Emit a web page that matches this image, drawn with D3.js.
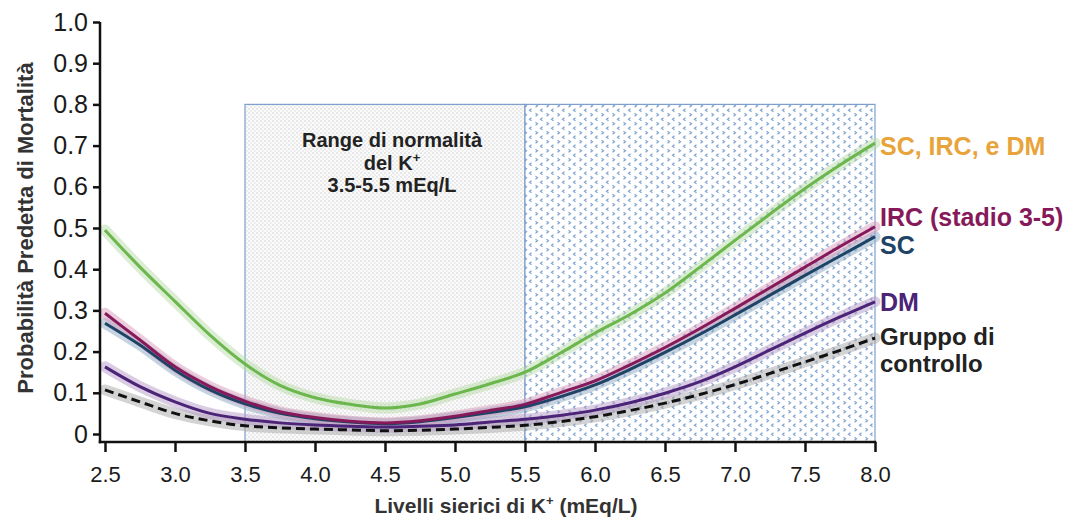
<!DOCTYPE html>
<html>
<head>
<meta charset="utf-8">
<script src="https://cdn.jsdelivr.net/npm/d3@7"></script>
<style>
  body { margin: 0; background: #fff; }
  text { font-family: "Liberation Sans", Arial, sans-serif; }
</style>
</head>
<body>
<div id="canvas"></div>
<script>
"use strict"

/* Data */
let kLevels = [2.5, 2.75, 3.0, 3.25, 3.5, 3.75, 4.0, 4.25, 4.5, 4.75, 5.0, 5.25, 5.5,
               5.75, 6.0, 6.25, 6.5, 6.75, 7.0, 7.25, 7.5, 7.75, 8.0];
let allThree = [0.495, 0.405, 0.322, 0.24, 0.17, 0.118, 0.088, 0.072, 0.063, 0.073, 0.097, 0.122, 0.15,
                0.196, 0.245, 0.29, 0.342, 0.405, 0.47, 0.534, 0.596, 0.653, 0.706];
let ckd = [0.293, 0.228, 0.163, 0.115, 0.08, 0.054, 0.04, 0.031, 0.027, 0.032, 0.043, 0.057, 0.072,
           0.1, 0.129, 0.168, 0.21, 0.256, 0.305, 0.355, 0.405, 0.455, 0.503];
let hf = [0.269, 0.216, 0.155, 0.107, 0.073, 0.05, 0.037, 0.029, 0.025, 0.03, 0.04, 0.052, 0.066,
          0.09, 0.119, 0.157, 0.198, 0.242, 0.289, 0.337, 0.385, 0.432, 0.479];
let dm = [0.163, 0.115, 0.078, 0.05, 0.036, 0.027, 0.022, 0.019, 0.017, 0.019, 0.022, 0.029, 0.036,
          0.045, 0.058, 0.076, 0.099, 0.127, 0.163, 0.204, 0.245, 0.284, 0.321];
let control = [0.107, 0.078, 0.05, 0.032, 0.02, 0.015, 0.012, 0.01, 0.008, 0.009, 0.012, 0.016, 0.021,
               0.03, 0.042, 0.057, 0.075, 0.096, 0.12, 0.147, 0.175, 0.203, 0.233];

let xTicks = [2.5, 3.0, 3.5, 4.0, 4.5, 5.0, 5.5, 6.0, 6.5, 7.0, 7.5, 8.0];
let yTicks = [0, 0.1, 0.2, 0.3, 0.4, 0.5, 0.6, 0.7, 0.8, 0.9, 1.0];
let normalRange = [3.5, 5.5];
let highRange = [5.5, 8.0];
let boxTop = 0.8;

/* Drawing configuration */
let svgWidth = 1075;
let svgHeight = 518;
let axisY = 442;   // x axis line sits a bit below the 0 level
let axisX = 100;   // y axis line sits a bit left of 2.5

let svg = d3.select("#canvas")
    .append("svg")
    .attr("width", svgWidth)
    .attr("height", svgHeight);

let xScale = d3.scaleLinear().domain([2.5, 8.0]).range([105, 875]);
let yScale = d3.scaleLinear().domain([0, 1]).range([434, 22]);

/* Patterns for the two shaded ranges */
let defs = svg.append("defs");
let grayPat = defs.append("pattern")
    .attr("id", "grayDots")
    .attr("patternUnits", "userSpaceOnUse")
    .attr("width", 4).attr("height", 4);
grayPat.append("rect").attr("width", 4).attr("height", 4).attr("fill", "#fbfbfb");
grayPat.append("circle").attr("cx", 1).attr("cy", 1).attr("r", 0.7).attr("fill", "#c6c6c6");
grayPat.append("circle").attr("cx", 3).attr("cy", 3).attr("r", 0.7).attr("fill", "#d4d4d4");

let bluePat = defs.append("pattern")
    .attr("id", "blueMarks")
    .attr("patternUnits", "userSpaceOnUse")
    .attr("width", 11).attr("height", 9);
bluePat.append("rect").attr("width", 11).attr("height", 9).attr("fill", "#ffffff");
bluePat.append("path")
    .attr("d", "M3.5,0.8 L1.5,2.3 L3.5,3.8 M7.5,5.3 L9.5,6.8 L7.5,8.3")
    .attr("fill", "none").attr("stroke", "#7fa3cf").attr("stroke-width", 1.2);

/* Shaded ranges */
svg.append("rect")
    .attr("x", xScale(normalRange[0]))
    .attr("y", yScale(boxTop))
    .attr("width", xScale(normalRange[1]) - xScale(normalRange[0]))
    .attr("height", axisY - yScale(boxTop))
    .attr("fill", "url(#grayDots)")
    .attr("stroke", "#7f9fcf")
    .attr("stroke-width", 1.2);

svg.append("rect")
    .attr("x", xScale(highRange[0]))
    .attr("y", yScale(boxTop))
    .attr("width", xScale(highRange[1]) - xScale(highRange[0]))
    .attr("height", axisY - yScale(boxTop))
    .attr("fill", "url(#blueMarks)")
    .attr("stroke", "#7f9fcf")
    .attr("stroke-width", 1.2);

/* Normal range caption */
let capX = 392;
let cap = svg.append("text")
    .attr("text-anchor", "middle")
    .attr("font-size", 20)
    .attr("font-weight", "bold")
    .attr("fill", "#222");
cap.append("tspan").attr("x", capX).attr("y", 147).text("Range di normalità");
let l2 = cap.append("tspan").attr("x", capX).attr("y", 170).text("del K");
l2.append("tspan").attr("font-size", 13).attr("dy", -8).text("+");
cap.append("tspan").attr("x", capX).attr("y", 192).text("3.5-5.5 mEq/L");

/* Series */
let series = [
    { name: "Gruppo di controllo", values: control, color: "#111111", band: "#a8a8a8", dash: "9,5" },
    { name: "DM", values: dm, color: "#4b2377", band: "#b49ac8", dash: null },
    { name: "SC", values: hf, color: "#1d4466", band: "#8eaac4", dash: null },
    { name: "IRC (stadio 3-5)", values: ckd, color: "#86195a", band: "#d79cbc", dash: null },
    { name: "SC, IRC, e DM", values: allThree, color: "#6cb64e", band: "#b8dca8", dash: null }
];

let line = d3.line()
    .x(function (d, i) { return xScale(kLevels[i]); })
    .y(function (d) { return yScale(d); })
    .curve(d3.curveMonotoneX);

series.forEach(function (s) {
    // confidence band, drawn as a soft halo
    svg.append("path")
        .attr("d", line(s.values))
        .attr("fill", "none")
        .attr("stroke", s.band)
        .attr("stroke-opacity", 0.5)
        .attr("stroke-width", 11)
        .attr("stroke-linecap", "round");
});
series.forEach(function (s) {
    svg.append("path")
        .attr("d", line(s.values))
        .attr("fill", "none")
        .attr("stroke", s.color)
        .attr("stroke-width", 3)
        .attr("stroke-dasharray", s.dash);
});

/* Axes */
let yAxis = svg.append("g")
    .attr("transform", "translate(" + axisX + ",0)")
    .call(d3.axisLeft(yScale).tickValues(yTicks).tickSize(7).tickPadding(5).tickSizeOuter(0)
        .tickFormat(function (d) { return d === 0 ? "0" : d3.format(".1f")(d); }));
yAxis.select(".domain").remove();
yAxis.selectAll(".tick line").attr("stroke", "#111").attr("stroke-width", 2.5);
yAxis.selectAll(".tick text").attr("font-size", 25).attr("fill", "#1a1a1a")
    .attr("font-family", "Liberation Sans, Arial, sans-serif");

let xAxis = svg.append("g")
    .attr("transform", "translate(0," + axisY + ")")
    .call(d3.axisBottom(xScale).tickValues(xTicks).tickSize(10).tickPadding(14).tickSizeOuter(0)
        .tickFormat(d3.format(".1f")));
xAxis.select(".domain").remove();
xAxis.selectAll(".tick line").attr("stroke", "#111").attr("stroke-width", 2.5);
xAxis.selectAll(".tick text").attr("font-size", 22).attr("fill", "#1a1a1a")
    .attr("font-family", "Liberation Sans, Arial, sans-serif");

svg.append("line")
    .attr("x1", axisX).attr("x2", axisX)
    .attr("y1", yScale(1)).attr("y2", axisY + 1.25)
    .attr("stroke", "#111").attr("stroke-width", 2.5);
svg.append("line")
    .attr("x1", axisX - 1.25).attr("x2", xScale(8.0) + 1.25)
    .attr("y1", axisY).attr("y2", axisY)
    .attr("stroke", "#111").attr("stroke-width", 2.5);

/* Axis titles */
let xTitle = svg.append("text")
    .attr("x", 506)
    .attr("y", 513)
    .attr("text-anchor", "middle")
    .attr("font-size", 21)
    .attr("font-weight", "bold")
    .attr("fill", "#333")
    .text("Livelli sierici di K");
xTitle.append("tspan").attr("font-size", 13).attr("dy", -8).text("+");
xTitle.append("tspan").attr("dy", 8).text(" (mEq/L)");

svg.append("text")
    .attr("transform", "translate(33,228) rotate(-90)")
    .attr("text-anchor", "middle")
    .attr("font-size", 22)
    .attr("font-weight", "bold")
    .attr("fill", "#333")
    .text("Probabilità Predetta di Mortalità");

/* Right-hand series labels */
let labels = [
    { text: "SC, IRC, e DM", y: 155, size: 25, color: "#e8a43a" },
    { text: "IRC (stadio 3-5)", y: 226, size: 25, color: "#86195a" },
    { text: "SC", y: 254, size: 25, color: "#1d4466" },
    { text: "DM", y: 311, size: 25, color: "#4b2377" },
    { text: "Gruppo di", y: 345, size: 24, color: "#222" },
    { text: "controllo", y: 372, size: 24, color: "#222" }
];
svg.selectAll(".serieslabel")
    .data(labels)
    .join("text")
    .attr("class", "serieslabel")
    .attr("x", 880)
    .attr("y", function (d) { return d.y; })
    .attr("font-size", function (d) { return d.size; })
    .attr("font-weight", "bold")
    .attr("fill", function (d) { return d.color; })
    .text(function (d) { return d.text; });
</script>
</body>
</html>
